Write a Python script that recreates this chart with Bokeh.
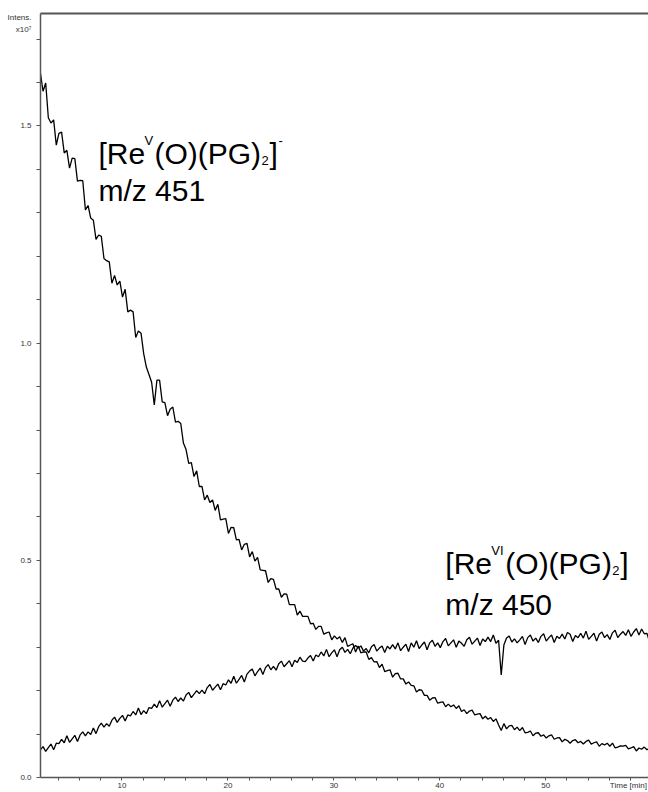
import numpy as np
from bokeh.plotting import figure
from bokeh.models import (Range1d, LinearAxis, FixedTicker, Label,
                          PrintfTickFormatter, ColumnDataSource)
from bokeh.embed import file_html
from bokeh.resources import INLINE

# ---- data (intensity in units of 1e7, time in min, one sample every 0.25 min) ----
t_start = 2.3
t_step = 0.25

intens_451 = [
    1.622, 1.580, 1.599, 1.519, 1.507, 1.514, 1.456, 1.483, 1.486, 1.438,
    1.444, 1.403, 1.426, 1.425, 1.373, 1.375, 1.374, 1.307, 1.317, 1.288,
    1.283, 1.239, 1.249, 1.246, 1.195, 1.190, 1.187, 1.138, 1.156, 1.134,
    1.143, 1.106, 1.124, 1.072, 1.076, 1.072, 1.013, 1.028, 1.023, 0.976,
    0.945, 0.928, 0.910, 0.858, 0.915, 0.915, 0.865, 0.863, 0.833, 0.848,
    0.853, 0.818, 0.820, 0.815, 0.770, 0.755, 0.723, 0.725, 0.693, 0.706,
    0.670, 0.670, 0.639, 0.650, 0.633, 0.639, 0.615, 0.629, 0.593, 0.595,
    0.596, 0.562, 0.576, 0.575, 0.547, 0.548, 0.524, 0.537, 0.539, 0.508,
    0.520, 0.498, 0.507, 0.478, 0.477, 0.476, 0.449, 0.458, 0.456, 0.434,
    0.434, 0.415, 0.423, 0.422, 0.398, 0.398, 0.398, 0.374, 0.383, 0.371,
    0.371, 0.371, 0.354, 0.355, 0.341, 0.348, 0.348, 0.330, 0.333, 0.335,
    0.317, 0.326, 0.319, 0.324, 0.311, 0.322, 0.302, 0.305, 0.308, 0.289,
    0.303, 0.287, 0.289, 0.289, 0.272, 0.276, 0.266, 0.267, 0.253, 0.261,
    0.244, 0.246, 0.248, 0.231, 0.239, 0.240, 0.227, 0.227, 0.215, 0.220,
    0.212, 0.211, 0.197, 0.202, 0.201, 0.189, 0.189, 0.178, 0.183, 0.184,
    0.171, 0.173, 0.174, 0.163, 0.169, 0.163, 0.167, 0.159, 0.165, 0.152,
    0.156, 0.147, 0.153, 0.155, 0.144, 0.146, 0.147, 0.135, 0.141, 0.134,
    0.138, 0.129, 0.135, 0.121, 0.108, 0.124, 0.112, 0.119, 0.120, 0.110,
    0.116, 0.108, 0.115, 0.103, 0.104, 0.107, 0.096, 0.102, 0.103, 0.095,
    0.098, 0.091, 0.096, 0.098, 0.088, 0.091, 0.092, 0.082, 0.088, 0.085,
    0.079, 0.085, 0.087, 0.080, 0.083, 0.077, 0.083, 0.086, 0.077, 0.080,
    0.082, 0.072, 0.078, 0.075, 0.079, 0.072, 0.079, 0.068, 0.070, 0.073,
    0.072, 0.074, 0.066, 0.068, 0.071, 0.061, 0.068, 0.065, 0.070, 0.064,
    0.067,
]

intens_450 = [
    0.064, 0.071, 0.060, 0.069, 0.077, 0.064, 0.079, 0.078, 0.088, 0.080,
    0.096, 0.081, 0.089, 0.097, 0.083, 0.098, 0.105, 0.096, 0.105, 0.099,
    0.114, 0.101, 0.117, 0.125, 0.116, 0.124, 0.118, 0.132, 0.139, 0.127,
    0.136, 0.143, 0.130, 0.144, 0.142, 0.152, 0.144, 0.160, 0.145, 0.154,
    0.147, 0.161, 0.159, 0.169, 0.161, 0.177, 0.162, 0.170, 0.178, 0.164,
    0.178, 0.185, 0.175, 0.183, 0.176, 0.190, 0.196, 0.184, 0.192, 0.200,
    0.193, 0.201, 0.193, 0.207, 0.214, 0.201, 0.208, 0.215, 0.202, 0.216,
    0.213, 0.225, 0.217, 0.233, 0.217, 0.226, 0.235, 0.220, 0.238, 0.245,
    0.250, 0.234, 0.244, 0.252, 0.237, 0.253, 0.260, 0.248, 0.256, 0.247,
    0.262, 0.268, 0.255, 0.262, 0.269, 0.255, 0.270, 0.265, 0.277, 0.268,
    0.267, 0.275, 0.281, 0.268, 0.282, 0.278, 0.289, 0.280, 0.295, 0.278,
    0.287, 0.294, 0.278, 0.294, 0.300, 0.288, 0.295, 0.285, 0.298, 0.304,
    0.298, 0.303, 0.291, 0.297, 0.287, 0.301, 0.306, 0.291, 0.298, 0.303,
    0.288, 0.302, 0.296, 0.306, 0.296, 0.310, 0.292, 0.300, 0.307, 0.290,
    0.310, 0.300, 0.315, 0.297, 0.305, 0.312, 0.294, 0.310, 0.316, 0.302,
    0.310, 0.299, 0.313, 0.320, 0.303, 0.310, 0.317, 0.300, 0.314, 0.309,
    0.302, 0.317, 0.323, 0.307, 0.314, 0.321, 0.304, 0.319, 0.313, 0.323,
    0.313, 0.328, 0.309, 0.316, 0.236, 0.305, 0.321, 0.326, 0.312, 0.319,
    0.310, 0.317, 0.325, 0.306, 0.322, 0.328, 0.314, 0.321, 0.311, 0.325,
    0.331, 0.314, 0.322, 0.328, 0.311, 0.325, 0.320, 0.330, 0.319, 0.334,
    0.330, 0.313, 0.327, 0.322, 0.332, 0.321, 0.337, 0.318, 0.325, 0.332,
    0.314, 0.330, 0.335, 0.322, 0.329, 0.318, 0.333, 0.339, 0.322, 0.330,
    0.336, 0.327, 0.340, 0.325, 0.335, 0.343, 0.328, 0.342, 0.331, 0.332,
    0.312,
]

time_451 = t_start + t_step * np.arange(len(intens_451))
time_450 = t_start + t_step * np.arange(len(intens_450))

# ticks and tick texts
x_major = [10, 20, 30, 40, 50, 57.8]
x_minor = list(range(4, 60, 2))
x_overrides = {57.8: "Time [min]"}
y_major = [0.0, 0.5, 1.0, 1.5, 1.736]
y_minor = [round(0.1 * i, 1) for i in range(18)]
y_overrides = {1.736: "Intens.\nx10\u2077"}

X_MIN, X_MAX = 2.31, 59.7
Y_MIN, Y_MAX = 0.0, 1.759

AXIS_COL = "#555555"
TXT_COL = "#333333"
FONT = "Liberation Sans"

p = figure(width=648, height=792, output_backend="svg", toolbar_location=None,
           x_range=Range1d(X_MIN, X_MAX), y_range=Range1d(Y_MIN, Y_MAX),
           min_border_left=40, min_border_right=0, min_border_top=13,
           min_border_bottom=0)
p.outline_line_color = None
p.xgrid.visible = False
p.ygrid.visible = False
p.background_fill_color = "white"
p.border_fill_color = "white"

src1 = ColumnDataSource(dict(t=time_451, v=intens_451))
src2 = ColumnDataSource(dict(t=time_450, v=intens_450))
p.line("t", "v", source=src1, line_color="black", line_width=1.3)
p.line("t", "v", source=src2, line_color="black", line_width=1.3)

xa = p.xaxis[0]
xa.ticker = FixedTicker(ticks=x_major, minor_ticks=x_minor)
xa.major_label_overrides = x_overrides
ya = p.yaxis[0]
ya.ticker = FixedTicker(ticks=y_major, minor_ticks=y_minor)
ya.formatter = PrintfTickFormatter(format="%.1f")
ya.major_label_overrides = y_overrides
for ax in (xa, ya):
    ax.axis_line_color = AXIS_COL
    ax.axis_line_width = 1.5
    ax.major_tick_line_color = None
    ax.minor_tick_line_color = AXIS_COL
    ax.major_tick_in = 0
    ax.major_tick_out = 0
    ax.minor_tick_in = 0
    ax.minor_tick_out = 4
    ax.major_label_text_font = FONT
    ax.major_label_text_font_size = "8px"
    ax.major_label_text_color = TXT_COL
    ax.major_label_standoff = 5
    ax.axis_label_standoff = 0
xa.minor_tick_out = 3
xa.major_label_standoff = 0
ya.major_label_text_line_height = 1.4

top = LinearAxis(ticker=FixedTicker(ticks=[]), major_label_text_font_size="0px",
                 axis_line_color=AXIS_COL, axis_line_width=1.8,
                 major_tick_line_color=None, minor_tick_line_color=None)
p.add_layout(top, "above")


def put(x, y, text, dx=0, dy=0, size=30):
    p.add_layout(Label(x=x, y=y, text=text, x_offset=dx, y_offset=dy,
                       text_font=FONT, text_font_size=f"{size}px",
                       text_baseline="alphabetic", text_align="left",
                       text_color="black"))


# annotation 1: [Re^V(O)(PG)2]^-  m/z 451
a1x, a1y = 7.78, 1.436
put(a1x, a1y, "[Re", 0, 0)
put(a1x, a1y, "V", 46, 13, 13)
put(a1x, a1y, "(O)(PG)", 56, 0)
put(a1x, a1y, "2", 163, -7, 13)
put(a1x, a1y, "]", 171, 0)
put(a1x, a1y, "-", 180, 13, 13)
put(a1x, a1y, "m/z 451", 0, -37)

# annotation 2: [Re^VI(O)(PG)2]  m/z 450
a2x, a2y = 40.52, 0.493
put(a2x, a2y, "[Re", 0, 0)
put(a2x, a2y, "VI", 46, 13, 13)
put(a2x, a2y, "(O)(PG)", 60, 0)
put(a2x, a2y, "2", 167, -7, 13)
put(a2x, a2y, "]", 175, 0)
put(a2x, a2y, "m/z 450", 0, -41)

open("out.html", "w").write(file_html(p, INLINE))
